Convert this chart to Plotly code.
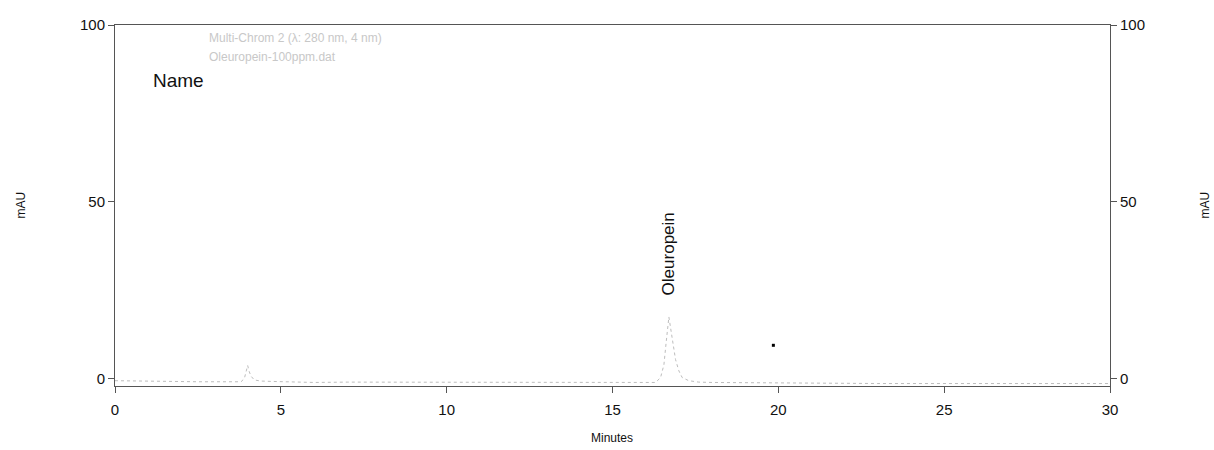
import plotly.graph_objects as go

# Retention time (minutes) and absorbance (mAU)
time_min = [0.0, 0.5, 1.0, 1.5, 2.0, 2.5, 3.0, 3.5, 3.8, 3.9, 4.0, 4.05, 4.1, 4.2, 4.4, 4.7, 5.0, 5.5, 6.0,
            7.0, 8.0, 9.0, 10.0, 11.0, 12.0, 13.0, 14.0, 15.0, 15.8, 16.3, 16.45, 16.55, 16.62, 16.67, 16.7,
            16.75, 16.82, 16.9, 17.0, 17.1, 17.3, 17.6, 18.0, 19.0, 20.0, 21.0, 22.0, 23.0, 24.0, 25.0,
            26.0, 27.0, 28.0, 29.0, 30.0]
signal_mau = [-0.5, -0.6, -0.6, -0.7, -0.7, -0.8, -0.8, -0.9, -0.8, 0.1, 3.8, 2.0, 0.8, -0.3, -0.6, -0.7, -0.8, -0.9, -1.0,
              -0.9, -0.9, -1.0, -1.0, -1.1, -1.1, -1.0, -1.0, -1.1, -1.1, -1.0, 0.4, 4.0, 10.5, 15.0, 17.5,
              14.5, 10.0, 5.5, 2.3, 0.4, -0.5, -0.9, -1.0, -1.1, -1.2, -1.2, -1.2, -1.3, -1.3, -1.3,
              -1.3, -1.3, -1.3, -1.3, -1.3]

# Isolated artefact dot
dot_time = [19.85]
dot_mau = [9.5]

x_ticks = [0, 5, 10, 15, 20, 25, 30]
y_ticks = [0, 50, 100]
legend_lines = ["Multi-Chrom 2 (\u03bb: 280 nm, 4 nm)", "Oleuropein-100ppm.dat"]
peak_label = "Oleuropein"
peak_time = 16.7

W, H = 1214, 450
L, R, T, B = 115, 104, 25, 64
plot_w = W - L - R
plot_h = H - T - B

def px_x(page_x):
    return (page_x - L) / plot_w

def px_y(page_y):
    return 1 - (page_y - T) / plot_h

fig = go.Figure()
fig.add_trace(go.Scatter(x=time_min, y=signal_mau, mode="lines",
                         line=dict(color="#bdbdbd", width=1, dash="dot"),
                         showlegend=False))
fig.add_trace(go.Scatter(x=dot_time, y=dot_mau, mode="markers",
                         marker=dict(color="black", size=3, symbol="square"),
                         showlegend=False))
# invisible trace for the right axis
fig.add_trace(go.Scatter(x=[0, 30], y=[0, 100], yaxis="y2", mode="lines",
                         line=dict(width=0), opacity=0, showlegend=False, hoverinfo="skip"))

font_family = "Liberation Sans, Arial, sans-serif"
axis_common = dict(showgrid=False, zeroline=False, showline=True, linecolor="#555555", linewidth=1,
                   ticks="outside", ticklen=6, tickcolor="#555555",
                   tickfont=dict(family=font_family, size=15, color="#111111"))

fig.update_layout(
    width=W, height=H,
    margin=dict(l=L, r=R, t=T, b=B, autoexpand=False),
    paper_bgcolor="white", plot_bgcolor="white",
    font=dict(family=font_family),
    xaxis=dict(range=[0, 30], tickvals=x_ticks, mirror=True, ticklabelstandoff=4, **axis_common),
    yaxis=dict(range=[-2, 100], tickvals=y_ticks, **axis_common),
    yaxis2=dict(range=[-2, 100], tickvals=y_ticks, overlaying="y", side="right", **axis_common),
)

fig.add_annotation(text="Minutes", x=px_x(612), y=px_y(438), xref="paper", yref="paper",
                   showarrow=False, xanchor="center", yanchor="middle",
                   font=dict(size=12, color="#111111"))
fig.add_annotation(text="mAU", x=px_x(20), y=0.5, xref="paper", yref="paper",
                   showarrow=False, textangle=-90, xanchor="center",
                   font=dict(size=12, color="#111111"))
fig.add_annotation(text="mAU", x=px_x(1204), y=0.5, xref="paper", yref="paper",
                   showarrow=False, textangle=-90, xanchor="center",
                   font=dict(size=12, color="#111111"))
fig.add_annotation(text=legend_lines[0], x=px_x(207), y=px_y(38), xref="paper", yref="paper",
                   showarrow=False, xanchor="left", yanchor="middle",
                   font=dict(size=12, color="#c8c8c8"))
fig.add_annotation(text=legend_lines[1], x=px_x(207), y=px_y(57), xref="paper", yref="paper",
                   showarrow=False, xanchor="left", yanchor="middle",
                   font=dict(size=12, color="#c8c8c8"))
fig.add_annotation(text="Name", x=px_x(151), y=px_y(80), xref="paper", yref="paper",
                   showarrow=False, xanchor="left", yanchor="middle",
                   font=dict(size=19, color="#111111"))
fig.add_annotation(text=peak_label, x=peak_time, y=px_y(297), xref="x", yref="paper",
                   showarrow=False, textangle=-90, yanchor="bottom", xanchor="center",
                   font=dict(size=17, color="#111111"))

fig.write_html("out.html", config={"displayModeBar": False},
               post_script="document.body.style.margin='0';document.body.style.overflow='hidden';")
